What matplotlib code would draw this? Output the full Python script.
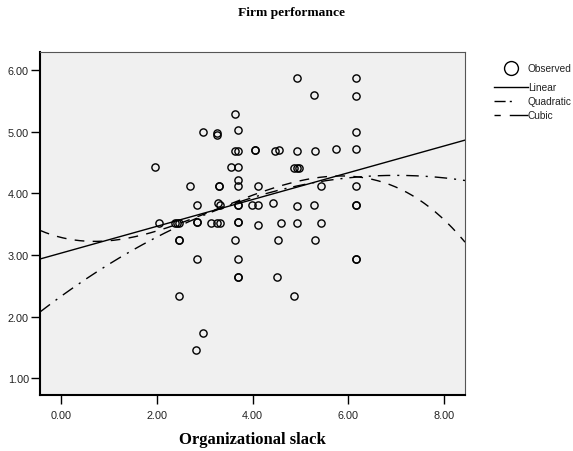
import numpy as np
import matplotlib.pyplot as plt
from matplotlib.lines import Line2D

# --- datos (x = holgura organizativa, y = desempeno) ---
slack = [4.93, 6.16, 5.28, 6.16, 3.64,
         2.96, 3.25, 3.25, 3.69, 6.16,
         3.64, 3.70, 4.06, 4.06, 4.46, 4.56, 4.93, 5.31, 5.74, 6.16,
         1.96, 3.55, 3.70, 4.87, 4.92, 4.97,
         3.70,
         2.70, 3.30, 3.30, 3.70, 4.12, 5.43, 6.16,
         2.84, 3.27, 3.32, 3.70, 3.70, 3.99, 4.12, 4.43, 4.93, 5.28, 6.16, 6.16,
         2.05, 2.38, 2.43, 2.47, 2.84, 2.84, 3.13, 3.25, 3.32, 3.69, 3.69,
         4.12, 4.59, 4.93, 5.43,
         2.47, 2.47, 3.64, 4.54, 5.31,
         2.84, 3.69, 6.16, 6.16,
         3.69, 3.69, 4.51,
         2.47, 4.87,
         2.96, 2.82]
performance = [5.87, 5.87, 5.59, 5.57, 5.29,
               4.99, 4.98, 4.95, 5.02, 4.99,
               4.69, 4.69, 4.70, 4.70, 4.69, 4.70, 4.69, 4.69, 4.71, 4.71,
               4.42, 4.43, 4.42, 4.41, 4.41, 4.41,
               4.22,
               4.12, 4.12, 4.12, 4.12, 4.12, 4.12, 4.12,
               3.81, 3.84, 3.81, 3.81, 3.81, 3.81, 3.81, 3.84, 3.79, 3.81, 3.81, 3.81,
               3.52, 3.52, 3.52, 3.52, 3.54, 3.54, 3.52, 3.52, 3.52, 3.53, 3.53,
               3.49, 3.52, 3.52, 3.52,
               3.24, 3.24, 3.24, 3.24, 3.24,
               2.94, 2.94, 2.94, 2.94,
               2.64, 2.64, 2.64,
               2.34, 2.34,
               1.74, 1.46]

# coeficientes de las curvas ajustadas (orden creciente de potencias)
coef_linear = [3.03, 0.217]
coef_quadratic = [2.33, 0.56, -0.04]
coef_cubic = [3.284, -0.1906, 0.1525, -0.01552]

x_ticks = [0, 2, 4, 6, 8]
y_ticks = [1, 2, 3, 4, 5, 6]

fig = plt.figure(figsize=(5.73, 4.52), dpi=100)
ax = fig.add_axes([40 / 573, 1 - 396 / 452, 425 / 573, 343 / 452])
ax.set_facecolor('#f0f0f0')

xs = np.linspace(-0.44, 8.44, 300)
fit = lambda c: np.polynomial.polynomial.polyval(xs, c)
ax.plot(xs, fit(coef_linear), color='black', lw=1.0, ls='-')
ax.plot(xs, fit(coef_quadratic), color='black', lw=1.0, ls=(0, (9, 5, 1.5, 5)))
ax.plot(xs, fit(coef_cubic), color='black', lw=1.0, ls=(0, (7, 6)))
ax.plot(slack, performance, ls='none', marker='o', ms=5.2, mfc='none',
        mec='black', mew=1.0)

ax.set_xlim(-0.44, 8.44)
ax.set_ylim(0.73, 6.29)
ax.set_xticks(x_ticks)
ax.set_yticks(y_ticks)
ax.set_xticklabels([f"{v:.2f}" for v in x_ticks])
ax.set_yticklabels([f"{v:.2f}" for v in y_ticks])
ax.tick_params(direction='out', length=6.5, width=1.0, labelsize=7.8,
               colors='black', labelcolor='#222222')
ax.tick_params(axis='x', pad=4)
ax.tick_params(axis='y', pad=1.5)
for lab in ax.get_xticklabels() + ax.get_yticklabels():
    lab.set_family('Liberation Sans')
ax.spines['left'].set_linewidth(1.5)
ax.spines['bottom'].set_linewidth(1.5)
ax.spines['top'].set_color('#555555')
ax.spines['right'].set_color('#555555')
ax.spines['top'].set_linewidth(0.8)
ax.spines['right'].set_linewidth(0.8)

fig.text(291 / 573, 1 - 13 / 452, 'Firm performance', ha='center', va='center',
         family='Liberation Serif', weight='bold', fontsize=9.7)
fig.text(252 / 573, 1 - 440 / 452, 'Organizational slack', ha='center', va='center',
         family='Liberation Serif', weight='bold', fontsize=12)

# --- leyenda dibujada a mano fuera del area de datos ---
px = lambda x, y: (x / 573, 1 - y / 452)
fig.add_artist(Line2D(*zip(px(511, 69)), marker='o', ms=10, mfc='none',
                      mec='black', mew=1.0, transform=fig.transFigure))
handles = [(88, '-', 528, 'Linear'), (102, (0, (8, 3, 1.5, 10)), 512, 'Quadratic'),
           (116, (0, (4.5, 6.5, 14, 10)), 528, 'Cubic')]
for yy, style, x_end, name in handles:
    (x0, y0), (x1, _) = px(494, yy), px(x_end, yy)
    fig.add_artist(Line2D([x0, x1], [y0, y0], color='black', lw=1.0, ls=style,
                          transform=fig.transFigure))
for yy, name in [(69, 'Observed'), (88, 'Linear'), (102, 'Quadratic'), (116, 'Cubic')]:
    fig.text(*px(528, yy), name, ha='left', va='center', fontsize=7.3,
             family='Liberation Sans', color='#222222')

fig.savefig('out.png', dpi=100)
